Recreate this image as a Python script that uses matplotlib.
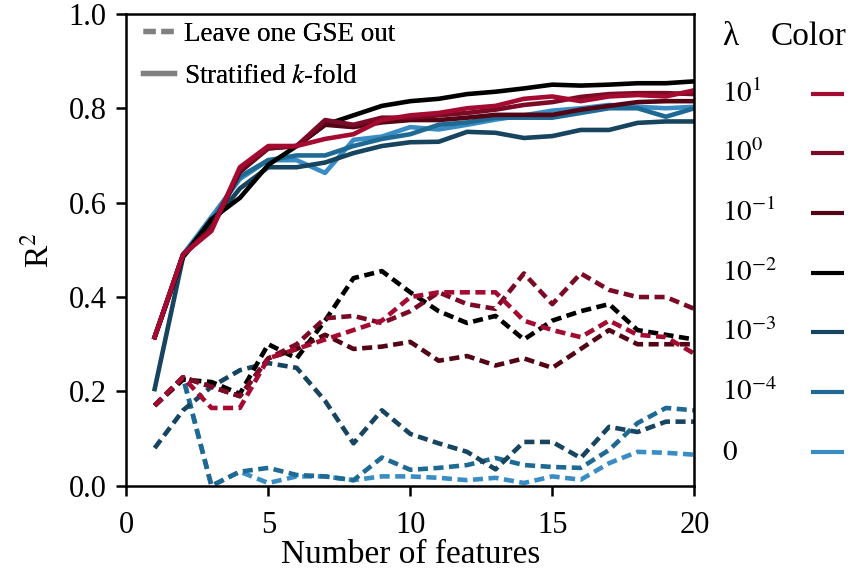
"""R^2 versus number of features for several regularisation strengths."""

import numpy as np
from matplotlib import pyplot
from matplotlib.lines import Line2D
from matplotlib.transforms import ScaledTranslation

n_features = np.arange(1, 21)

lambdas = ['$10^{1}$', '$10^{0}$', '$10^{-1}$', '$10^{-2}$',
           '$10^{-3}$', '$10^{-4}$', '$0$']
colors = ['#a50b30', '#7a0a25', '#530515', '#000000',
          '#17445f', '#1e6a95', '#3a8dc4']

# Stratified k-fold (solid lines)
kfold_1e1 = [0.315, 0.49, 0.54, 0.675, 0.72, 0.72, 0.735, 0.745, 0.775, 0.785,
             0.79, 0.80, 0.805, 0.82, 0.825, 0.815, 0.825, 0.828, 0.825, 0.838]
kfold_1e0 = [0.315, 0.49, 0.545, 0.67, 0.715, 0.72, 0.775, 0.765, 0.78, 0.78,
             0.785, 0.79, 0.797, 0.807, 0.813, 0.824, 0.83, 0.832, 0.832, 0.83]
kfold_1em1 = [0.315, 0.49, 0.545, 0.665, 0.715, 0.72, 0.765, 0.76, 0.77, 0.775,
              0.775, 0.78, 0.786, 0.786, 0.786, 0.797, 0.805, 0.813, 0.815, 0.815]
kfold_1em2 = [0.315, 0.485, 0.565, 0.61, 0.68, 0.72, 0.765, 0.785, 0.805, 0.815,
              0.82, 0.83, 0.835, 0.842, 0.85, 0.848, 0.85, 0.853, 0.853, 0.857]
kfold_1em3 = [0.205, 0.485, 0.555, 0.63, 0.675, 0.675, 0.685, 0.705, 0.72, 0.728,
              0.729, 0.75, 0.748, 0.737, 0.741, 0.754, 0.754, 0.769, 0.772, 0.772]
kfold_1em4 = [0.315, 0.49, 0.56, 0.655, 0.69, 0.70, 0.70, 0.72, 0.735, 0.745,
              0.765, 0.77, 0.78, 0.78, 0.78, 0.79, 0.80, 0.80, 0.782, 0.80]
kfold_0 = [0.315, 0.49, 0.57, 0.65, 0.69, 0.69, 0.663, 0.733, 0.74, 0.76,
           0.755, 0.765, 0.776, 0.785, 0.795, 0.80, 0.807, 0.803, 0.80, 0.803]

# Leave one GSE out (dashed lines)
logo_1e1 = [0.17, 0.23, 0.165, 0.165, 0.27, 0.29, 0.31, 0.33, 0.35, 0.40,
            0.41, 0.41, 0.41, 0.35, 0.33, 0.315, 0.35, 0.32, 0.315, 0.28]
logo_1e0 = [0.17, 0.23, 0.21, 0.19, 0.27, 0.30, 0.355, 0.36, 0.345, 0.37,
            0.41, 0.385, 0.375, 0.45, 0.385, 0.45, 0.415, 0.40, 0.40, 0.375]
logo_1em1 = [0.17, 0.23, 0.21, 0.19, 0.27, 0.29, 0.32, 0.29, 0.295, 0.305,
             0.265, 0.275, 0.255, 0.27, 0.25, 0.29, 0.33, 0.30, 0.30, 0.30]
logo_1em2 = [0.17, 0.225, 0.22, 0.195, 0.30, 0.27, 0.35, 0.44, 0.455, 0.41,
             0.37, 0.345, 0.36, 0.31, 0.35, 0.37, 0.385, 0.33, 0.32, 0.31]
logo_1em3 = [0.08, 0.16, 0.21, 0.245, 0.26, 0.25, 0.18, 0.09, 0.16, 0.11,
             0.09, 0.072, 0.035, 0.093, 0.093, 0.059, 0.125, 0.114, 0.136, 0.136]
logo_1em4 = [0.17, 0.23, 0.0, 0.03, 0.038, 0.023, 0.02, 0.012, 0.06, 0.034,
             0.038, 0.044, 0.059, 0.044, 0.04, 0.038, 0.076, 0.133, 0.165, 0.16]
logo_0 = [0.17, 0.23, 0.0, 0.03, 0.006, 0.02, 0.02, 0.012, 0.02, 0.02,
          0.017, 0.012, 0.017, 0.006, 0.02, 0.013, 0.048, 0.072, 0.07, 0.066]

kfold = [kfold_1e1, kfold_1e0, kfold_1em1, kfold_1em2,
         kfold_1em3, kfold_1em4, kfold_0]
logo = [logo_1e1, logo_1e0, logo_1em1, logo_1em2,
        logo_1em3, logo_1em4, logo_0]

pyplot.rc('font', family='Liberation Serif', size=22)
pyplot.rc('mathtext', fontset='stix')
fig = pyplot.figure(figsize=(8.53, 5.77), dpi=100)
ax = fig.add_axes([0.148, 0.158, 0.666, 0.818])

# draw from smallest lambda to largest so the red lines sit on top
handles = []
for i in reversed(range(len(lambdas))):
    ax.plot(n_features, logo[i], color=colors[i], linewidth=3.3,
            linestyle=(0, (2.2, 1.2)))
    line, = ax.plot(n_features, kfold[i], color=colors[i], linewidth=3.3)
    handles.insert(0, line)

ax.set_xlim(0, 20)
ax.set_ylim(0.0, 1.0)
ax.set_xticks([0, 5, 10, 15, 20])
ax.set_yticks(np.arange(0.0, 1.01, 0.2))
ax.set_xlabel('Number of features', fontsize=24, labelpad=0)
ax.set_ylabel('R$^2$', fontsize=24, labelpad=10)
for spine in ax.spines.values():
    spine.set_linewidth(1.8)
ax.tick_params(width=1.8, length=7)
ax.tick_params(axis='x', pad=11)
ax.tick_params(axis='y', pad=7)

style_handles = [Line2D([], [], color='gray', linewidth=3.8,
                        linestyle=(0, (2.3, 1.1))),
                 Line2D([], [], color='gray', linewidth=3.8)]
leg1 = ax.legend(style_handles, ['Leave one GSE out', 'Stratified $k$-fold'],
                 loc='upper left', bbox_to_anchor=(0.015, 1.0),
                 frameon=False, fontsize=19.5, handlelength=1.15,
                 handletextpad=0.35, borderaxespad=0.0, borderpad=0.3,
                 labelspacing=0.62)
ax.add_artist(leg1)

# colour key on the right: short lines from a legend, lambda labels beside
leg2 = fig.legend(handles, [''] * len(handles), loc='upper left',
                  bbox_to_anchor=(0.951, 0.854), frameon=False, fontsize=19.5,
                  handlelength=1.2, handletextpad=0.0, borderpad=0.0,
                  borderaxespad=0.0, labelspacing=1.28)
for line in leg2.get_lines():
    line.set_linewidth(3.0)
    line.set_solid_capstyle('butt')

fig.text(0.8464, 0.922, 'λ', fontsize=24)
fig.text(0.903, 0.922, 'Color', fontsize=24)

fig.canvas.draw()
to_fig = fig.transFigure.inverted()
shift = ScaledTranslation(0, -8 / 100, fig.dpi_scale_trans)
for line, lam in zip(leg2.get_lines(), lambdas):
    bb = line.get_window_extent()
    _, yc = to_fig.transform((0, 0.5 * (bb.y0 + bb.y1)))
    fig.text(0.8464, yc, lam, fontsize=21, va='baseline',
             transform=fig.transFigure + shift)

fig.savefig('out.png', dpi=100)
